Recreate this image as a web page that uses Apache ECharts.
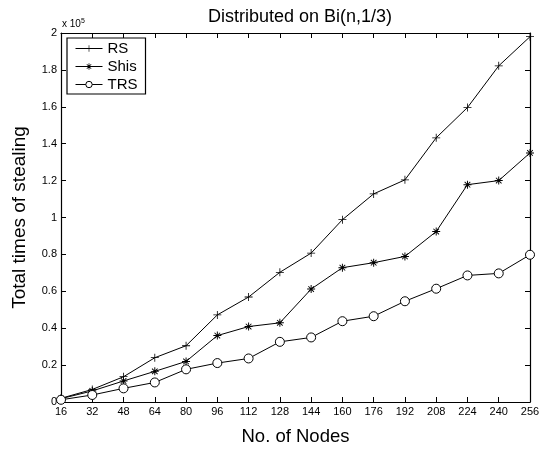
<!DOCTYPE html>
<html>
<head>
<meta charset="utf-8">
<script src="https://cdn.jsdelivr.net/npm/echarts@6/dist/echarts.min.js"></script>
<style>
  html, body { margin: 0; padding: 0; background: #fff; }
  #chart { width: 544px; height: 449px; }
</style>
</head>
<body>
<div id="chart"></div>
<script>
// values in units of 1e5
var nodes = [16, 32, 48, 64, 80, 96, 112, 128, 144, 160, 176, 192, 208, 224, 240, 256];
var rs   = [0.02, 0.068, 0.137, 0.24, 0.305, 0.472, 0.569, 0.703, 0.807, 0.988, 1.128, 1.204, 1.432, 1.596, 1.822, 1.98];
var shis = [0.018, 0.06, 0.114, 0.166, 0.22, 0.36, 0.409, 0.429, 0.612, 0.728, 0.755, 0.789, 0.924, 1.178, 1.2, 1.35];
var trs  = [0.012, 0.038, 0.074, 0.106, 0.177, 0.211, 0.236, 0.326, 0.35, 0.438, 0.465, 0.546, 0.614, 0.686, 0.697, 0.798];

var dom = document.getElementById('chart');
var myChart = echarts.init(dom, null, { renderer: 'canvas' });

var font = 'Liberation Sans, Arial, Helvetica, sans-serif';
var plusPath = 'path://M-1,-0.1L1,-0.1L1,0.1L-1,0.1Z M-0.1,-1L0.1,-1L0.1,1L-0.1,1Z';
var starPath = 'path://M-1,-0.12L1,-0.12L1,0.12L-1,0.12Z M-0.12,-1L0.12,-1L0.12,1L-0.12,1Z ' +
  'M-0.78,-0.62L-0.62,-0.78L0.78,0.62L0.62,0.78Z M0.62,-0.78L0.78,-0.62L-0.62,0.78L-0.78,0.62Z';

function pairs(vals) {
  return nodes.map(function (n, i) { return [n, vals[i]]; });
}

function lineSeries(name, vals, symbol, size, hollow) {
  return {
    name: name,
    type: 'line',
    data: pairs(vals),
    symbol: symbol,
    symbolSize: size,
    showAllSymbol: true,
    lineStyle: { color: '#000', width: 1 },
    itemStyle: hollow
      ? { color: '#fff', borderColor: '#000', borderWidth: 1 }
      : { color: '#000' },
    emphasis: { disabled: true },
    animation: false
  };
}

var axisCommon = {
  axisLine: { show: true, onZero: false, lineStyle: { color: '#000', width: 1.2 } },
  axisTick: { show: true, inside: true, length: 5, lineStyle: { color: '#000' } },
  splitLine: { show: false }
};

var option = {
  backgroundColor: '#fff',
  title: {
    text: 'Distributed on Bi(n,1/3)',
    left: 295,
    top: 3,
    textAlign: 'center',
    textStyle: { fontFamily: font, fontSize: 18, fontWeight: 'normal', color: '#000' }
  },
  legend: {
    orient: 'vertical',
    left: 67,
    top: 38,
    padding: [3, 8, 2, 8],
    itemGap: 3,
    itemWidth: 27,
    itemHeight: 8,
    backgroundColor: '#fff',
    borderColor: '#000',
    borderWidth: 1.2,
    borderRadius: 0,
    lineStyle: { width: 1 },
    itemStyle: { borderWidth: 1 },
    textStyle: { fontFamily: font, fontSize: 15, color: '#000' },
    data: ['RS', 'Shis', 'TRS']
  },
  grid: { left: 61, right: 14, top: 33, bottom: 47, outerBoundsMode: 'none', containLabel: false },
  xAxis: [
    Object.assign({
      type: 'value', min: 16, max: 256, interval: 16,
      name: 'No. of Nodes', nameLocation: 'middle', nameGap: 25,
      nameTextStyle: { fontFamily: font, fontSize: 18.5, color: '#000' },
      axisLabel: { fontFamily: font, fontSize: 11, color: '#000', margin: 4 }
    }, axisCommon),
    Object.assign({
      type: 'value', min: 16, max: 256, interval: 16, position: 'top',
      axisLabel: { show: false }
    }, axisCommon)
  ],
  yAxis: [
    Object.assign({
      type: 'value', min: 0, max: 2, interval: 0.2,
      name: 'Total times of stealing', nameLocation: 'middle', nameGap: 32,
      nameTextStyle: { fontFamily: font, fontSize: 19, color: '#000' },
      axisLabel: { fontFamily: font, fontSize: 11, color: '#000', margin: 4 }
    }, axisCommon),
    Object.assign({
      type: 'value', min: 0, max: 2, interval: 0.2, position: 'right',
      axisLabel: { show: false }
    }, axisCommon)
  ],
  graphic: [{
    type: 'text',
    left: 62,
    top: 18,
    style: {
      text: '{a|x 10}{b|5}',
      rich: {
        a: { fontFamily: font, fontSize: 10, fill: '#000' },
        b: { fontFamily: font, fontSize: 7, fill: '#000', verticalAlign: 'top', padding: [0, 0, 6, 0] }
      }
    }
  }],
  series: [
    lineSeries('RS', rs, plusPath, 8, false),
    lineSeries('Shis', shis, starPath, 8, false),
    lineSeries('TRS', trs, 'circle', 9, true)
  ]
};

myChart.setOption(option);
window.addEventListener('resize', myChart.resize);
</script>
</body>
</html>
